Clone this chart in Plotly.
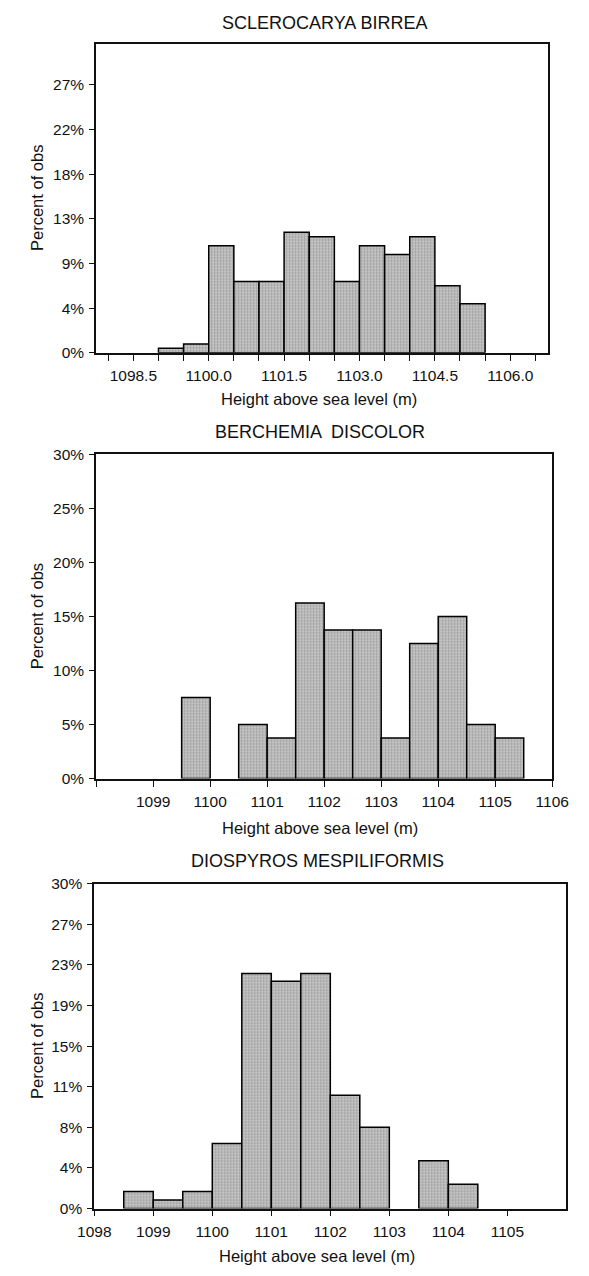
import plotly.graph_objects as go

W, H = 589, 1276

# ---------------- data ----------------
bin_width = 0.5

# Panel 1: SCLEROCARYA BIRREA
p1_title = "SCLEROCARYA BIRREA"
p1_bin_start = [1099.0, 1099.5, 1100.0, 1100.5, 1101.0, 1101.5, 1102.0,
                1102.5, 1103.0, 1103.5, 1104.0, 1104.5, 1105.0]
p1_percent = [0.45, 0.89, 10.71, 7.14, 7.14, 12.05, 11.61,
              7.14, 10.71, 9.82, 11.61, 6.70, 4.91]
p1_xtickvals = [1098.0, 1098.5, 1099.0, 1099.5, 1100.0, 1100.5, 1101.0, 1101.5, 1102.0,
                1102.5, 1103.0, 1103.5, 1104.0, 1104.5, 1105.0, 1105.5, 1106.0, 1106.5]
p1_xticktext = ["", "1098.5", "", "", "1100.0", "", "", "1101.5", "",
                "", "1103.0", "", "", "1104.5", "", "", "1106.0", ""]
p1_ytickvals = [0, 4.464, 8.929, 13.393, 17.857, 22.321, 26.786]
p1_yticktext = ["0%", "4%", "9%", "13%", "18%", "22%", "27%"]

# Panel 2: BERCHEMIA DISCOLOR
p2_title = "BERCHEMIA  DISCOLOR"
p2_bin_start = [1099.5, 1100.5, 1101.0, 1101.5, 1102.0, 1102.5,
                1103.0, 1103.5, 1104.0, 1104.5, 1105.0]
p2_percent = [7.5, 5.0, 3.75, 16.25, 13.75, 13.75, 3.75, 12.5, 15.0, 5.0, 3.75]
p2_xtickvals = [1098, 1099, 1100, 1101, 1102, 1103, 1104, 1105, 1106]
p2_xticktext = ["", "1099", "1100", "1101", "1102", "1103", "1104", "1105", "1106"]
p2_ytickvals = [0, 5, 10, 15, 20, 25, 30]
p2_yticktext = ["0%", "5%", "10%", "15%", "20%", "25%", "30%"]

# Panel 3: DIOSPYROS MESPILIFORMIS
p3_title = "DIOSPYROS MESPILIFORMIS"
p3_bin_start = [1098.5, 1099.0, 1099.5, 1100.0, 1100.5, 1101.0,
                1101.5, 1102.0, 1102.5, 1103.5, 1104.0]
p3_percent = [1.57, 0.78, 1.57, 6.0, 21.7, 21.0, 21.7, 10.45, 7.5, 4.4, 2.23]
p3_xtickvals = [1098, 1099, 1100, 1101, 1102, 1103, 1104, 1105]
p3_xticktext = ["1098", "1099", "1100", "1101", "1102", "1103", "1104", "1105"]
p3_ytickvals = [0, 3.75, 7.5, 11.25, 15, 18.75, 22.5, 26.25, 30]
p3_yticktext = ["0%", "4%", "8%", "11%", "15%", "19%", "23%", "27%", "30%"]

x_title = "Height above sea level (m)"
y_title = "Percent of obs"

# ---------------- style ----------------
FONT = "Liberation Sans, Arial, Helvetica, sans-serif"
INK = "#111111"

# panel frames in pixels: (left, right, top, bottom)
frames = [(84, 564, 35, 348.5), (84, 568, 451.5, 780), (82, 583, 886.5, 1215.7)]
xranges = [[1097.76, 1106.76], [1098, 1106], [1098, 1106]]
yranges = [[0, 30.9], [0, 30], [0, 30]]
title_pos = [(326, 14), (322, 429), (319, 863)]
xtitle_pos = [(320, 395), (322, 830), (318, 1264)]

panels = [
    (p1_title, p1_bin_start, p1_percent, p1_xtickvals, p1_xticktext, p1_ytickvals, p1_yticktext),
    (p2_title, p2_bin_start, p2_percent, p2_xtickvals, p2_xticktext, p2_ytickvals, p2_yticktext),
    (p3_title, p3_bin_start, p3_percent, p3_xtickvals, p3_xticktext, p3_ytickvals, p3_yticktext),
]

fig = go.Figure()
layout = dict(
    width=W, height=H,
    margin=dict(l=0, r=0, t=0, b=0),
    paper_bgcolor="white", plot_bgcolor="white",
    showlegend=False,
    font=dict(family=FONT, color=INK, size=15.5),
    barmode="overlay",
    annotations=[],
)

for i, (title, starts, pct, xtv, xtt, ytv, ytt) in enumerate(panels):
    n = "" if i == 0 else str(i + 1)
    l, r, t, b = frames[i]
    centers = [s + bin_width / 2 for s in starts]
    fig.add_trace(go.Bar(
        x=centers, y=pct, width=[bin_width] * len(starts),
        marker=dict(
            color="#c6c6c6",
            pattern=dict(shape=".", size=3, solidity=0.45,
                         fgcolor="#6a6a6a", bgcolor="#cdcdcd", fillmode="overlay"),
            line=dict(color="black", width=1.5)),
        xaxis="x" + n, yaxis="y" + n, hoverinfo="skip",
    ))
    common = dict(showgrid=False, zeroline=False, showline=True, linecolor="#111111",
                  linewidth=1.8, mirror=True, ticks="outside", tickcolor="#111111",
                  tickwidth=1.3, tickfont=dict(size=15.5, family=FONT, color=INK),
                  fixedrange=True)
    layout["xaxis" + n] = dict(
        common, domain=[l / W, r / W], range=xranges[i], anchor="y" + n,
        tickmode="array", tickvals=xtv, ticktext=xtt, ticklen=6,
        ticklabelstandoff=2,
    )
    layout["yaxis" + n] = dict(
        common, domain=[1 - b / H, 1 - t / H], range=yranges[i], anchor="x" + n,
        tickmode="array", tickvals=ytv, ticktext=ytt, ticklen=5,
        ticklabelstandoff=2,
    )
    tx, ty = title_pos[i]
    layout["annotations"].append(dict(
        text=title, xref="paper", yref="paper", x=tx / W, y=1 - ty / H,
        xanchor="center", yanchor="middle", showarrow=False,
        font=dict(size=18, family=FONT, color=INK)))
    ax, ay = xtitle_pos[i]
    layout["annotations"].append(dict(
        text=x_title, xref="paper", yref="paper", x=ax / W, y=1 - ay / H,
        xanchor="center", yanchor="middle", showarrow=False,
        font=dict(size=16.5, family=FONT, color=INK)))
    layout["annotations"].append(dict(
        text=y_title, xref="paper", yref="paper", x=21 / W, y=1 - ((t + b) / 2) / H,
        xanchor="center", yanchor="middle", showarrow=False, textangle=-90,
        font=dict(size=16.5, family=FONT, color=INK)))

fig.update_layout(**layout)
fig.write_html("out.html")
